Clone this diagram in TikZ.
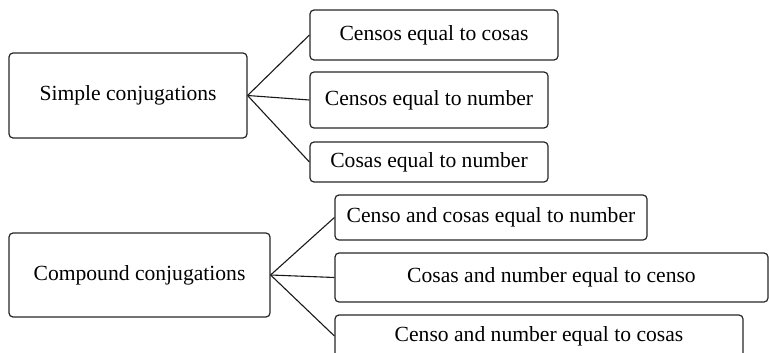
\documentclass[tikz,border=0pt]{standalone}
\usepackage{fontspec}
\setmainfont{Liberation Serif}
\usepackage{tikz}
\usetikzlibrary{positioning}

\begin{document}
\begin{tikzpicture} [x=1pt, y=-1pt,
  box/.style={draw=black!85, line width=1.2pt, rounded corners=4pt, inner sep=0pt, align=center, font=\fontsize{21.6}{26}\selectfont},
  link/.style={draw=black!90, line width=1.1pt}]

%\draw [help lines, step=10pt](0,0) grid (769,353);
\path [use as bounding box, clip] (0,0) rectangle (769,353);

\node [box, minimum width=238pt, minimum height=85pt] (simple) at (128,95.5) {Simple conjugations};
\node [box, minimum width=248pt, minimum height=50pt] (cenco) at (434,35) {Censos equal to cosas};
\node [box, minimum width=238pt, minimum height=56pt] (cennu) at (429,100) {Censos equal to number};
\node [box, minimum width=238pt, minimum height=40pt] (cosnu) at (429,162) {Cosas equal to number};

\node [box, minimum width=261pt, minimum height=84pt] (compound) at (139.5,275) {Compound conjugations};
\node [box, minimum width=312pt, minimum height=45pt] (cencosnu) at (491,217.5) {Censo and cosas equal to number};
\node [box, minimum width=433pt, minimum height=49pt] (cosnucen) at (551.5,277.5) {Cosas and number equal to censo};
\node [box, minimum width=408pt, minimum height=42pt] (cennucos) at (539,336) {Censo and number equal to cosas};

\draw [link] (simple.east) -- (cenco.west);
\draw [link] (simple.east) -- (cennu.west);
\draw [link] (simple.east) -- (cosnu.west);

\draw [link] (compound.east) -- (cencosnu.west);
\draw [link] (compound.east) -- (cosnucen.west);
\draw [link] (compound.east) -- (cennucos.west);

\end{tikzpicture}
\end{document}
